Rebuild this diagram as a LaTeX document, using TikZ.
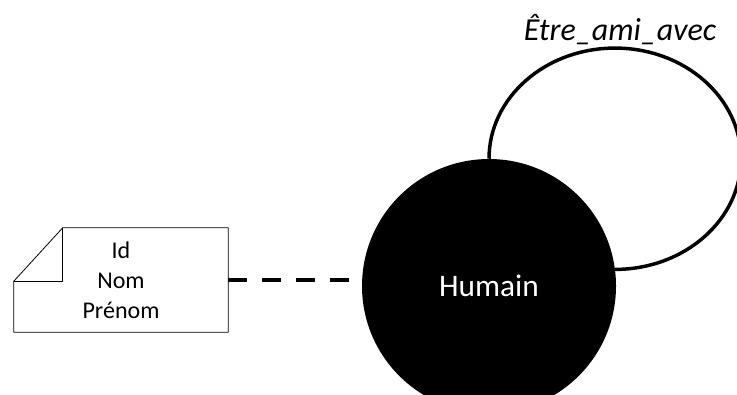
\documentclass[tikz,border=0pt]{standalone}
\usepackage{fontspec}
\setmainfont{Carlito}
\begin{document}
\begin{tikzpicture}[x=0.75pt, y=-0.75pt, line join=round,
  entite/.style={circle, fill=black, text=white, minimum size=190.5pt, inner sep=0pt, font=\fontsize{23.5}{28}\selectfont},
  attrib/.style={align=center, minimum width=160.5pt, minimum height=78pt, inner sep=0pt, font=\fontsize{18}{22.5}\selectfont},
  lien/.style={line width=3pt, dash pattern=on 14.25pt off 11.25pt},
  boucle/.style={line width=2.6pt}]
\useasboundingbox (0,0) rectangle (737,394);
\clip (0,0) rectangle (737,394);
\node[entite] (hum) at (489,286) {Humain};
\node[attrib] (attr) at (121,280) {Id\\Nom\\Prénom};
\draw[line width=0.6pt] (attr.south west) -- ++(0,-51) coordinate (f1)
  -- ([xshift=36.75pt]attr.north west) coordinate (f2)
  -- (attr.north east) -- (attr.south east) -- cycle;
\draw[line width=0.6pt] (f1) -| (f2);
\draw[lien] (attr.east) -- (attr.east -| hum.west);
\draw[boucle] (hum.north) arc[start angle=180, end angle=-90, x radius=94.5pt, y radius=83pt] coordinate (fin);
\node[font=\fontsize{24}{28}\selectfont\itshape] (rel) at (620,30) {Être\_ami\_avec};
\end{tikzpicture}
\end{document}
